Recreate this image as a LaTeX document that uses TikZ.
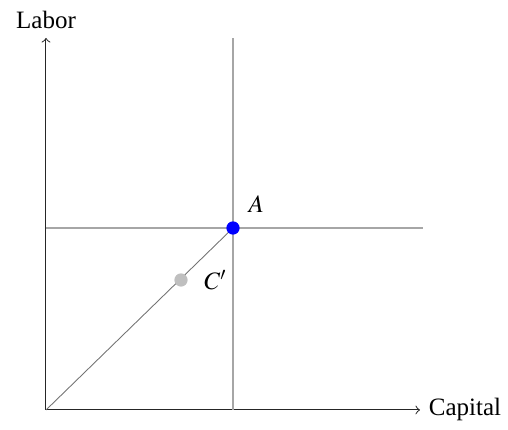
\documentclass[tikz,border=0pt]{standalone}
\usepackage{mathptmx}
\usepackage{fontspec}
\setmainfont{Liberation Serif}
\usepackage{tikz}
\usetikzlibrary{positioning}

\begin{document}
\begin{tikzpicture}[
    x=0.4pt, y=0.4pt,
    every node/.style={font=\normalsize, text=black},
    axis/.style={->, black!85, line width=0.4pt},
    guide/.style={black!35, line width=0.6pt},
    ray/.style={black!55, line width=0.35pt},
    dotpt/.style={circle, inner sep=0pt, minimum size=5.3pt}
]
\useasboundingbox (-46,-20) rectangle (462,410);

% axes
\coordinate (O) at (0,0);
\coordinate (ytop) at (0,372);
\coordinate (xend) at (374,0);
\draw[axis] (O) -- (ytop) node[above] {Labor};
\draw[axis] (O) -- (xend) node[right] {Capital};

% guide lines through A
\coordinate (vtop) at (187,372);
\coordinate (vbot) at (187,0);
\coordinate (hleft) at (0,182);
\coordinate (hright) at (377,182);
\draw[guide] (vbot) -- (vtop);
\draw[guide] (hleft) -- (hright);

% points
\draw[ray] (O) -- (187,182);
\node[dotpt, fill=blue] (A) at (187,182) {};
\node[dotpt, fill=black!25] (C) at (135,130) {};
\node[above right=1pt of A] {$A$};
\node[right=3pt of C] {$C'$};
\end{tikzpicture}
\end{document}
